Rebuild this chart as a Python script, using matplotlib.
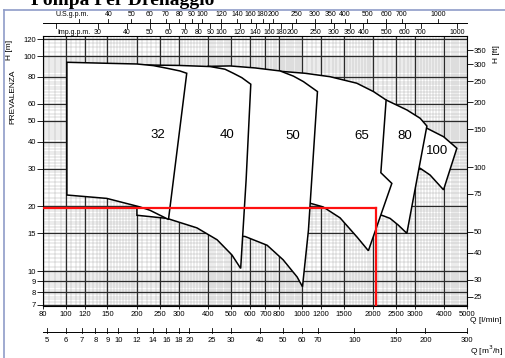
import matplotlib.pyplot as plt
import matplotlib.ticker as mticker
from matplotlib.patches import Polygon
from matplotlib.lines import Line2D
from matplotlib.transforms import blended_transform_factory

plt.rcParams['font.family'] = ['Liberation Sans Narrow', 'Liberation Sans', 'DejaVu Sans']

# pump fields: outline points, Q [l/min] and H [m]
q32 = [101, 149, 200, 235, 268, 304, 325, 272, 227, 206, 149, 101]
h32 = [93.6, 92.6, 91.9, 90.3, 87.8, 85.3, 83.2, 17.4, 19.2, 19.9, 21.8, 22.6]
q40 = [200, 300, 408, 472, 512, 556, 607, 580, 550, 505, 437, 359, 268, 200]
h40 = [91.0, 90.5, 89.4, 86.9, 83.2, 79.4, 74.0, 26.6, 10.3, 11.9, 14.0, 15.9, 17.6, 18.2]
q50 = [400, 496, 633, 808, 920, 1014, 1163, 1065, 1005, 954, 832, 712, 574, 520]
h50 = [89.6, 90.0, 88.1, 85.3, 80.7, 76.1, 68.4, 15.5, 8.47, 9.4, 11.3, 13.2, 14.5, 14.6]
q65 = [808, 1031, 1315, 1707, 2008, 2272, 2158, 2402, 1911, 1712, 1450, 1229, 1083, 900]
h65 = [85.0, 83.2, 80.2, 74.8, 68.4, 62.5, 28.7, 25.6, 12.45, 14.4, 17.7, 19.9, 20.7, 20.8]
q80 = [2000, 2272, 2781, 3166, 3381, 2781, 2555, 2361, 2179, 2000]
h80 = [62.0, 62.5, 56.2, 51.4, 47.3, 15.0, 16.4, 17.6, 18.2, 18.2]
q100 = [3000, 3381, 3977, 4529, 3977, 3488, 3166, 3000]
h100 = [46.5, 46.2, 42.2, 37.3, 23.9, 28.0, 30.1, 30.1]

fields = [('32', q32, h32, 246, 43.0), ('40', q40, h40, 483, 43.0),
          ('50', q50, h50, 914, 42.6), ('65', q65, h65, 1792, 42.6),
          ('80', q80, h80, 2736, 42.6), ('100', q100, h100, 3751, 36.2)]

# duty point (red lines)
duty_q = 2060
duty_h = 19.7

# axes ticks
q_ticks = [80, 100, 120, 150, 200, 250, 300, 400, 500, 600, 700, 800, 1000,
           1200, 1500, 2000, 2500, 3000, 4000, 5000]
q_labels = ['80', '100', '120', '150', '200', '250', '300', '400', '500', '600',
            '700', '800', '1000', '1200', '1500', '2000', '2500', '3000', '4000', '5000']
h_ticks = [7, 8, 9, 10, 15, 20, 30, 40, 50, 60, 80, 100, 120]
ft_ticks = [25, 30, 40, 50, 75, 100, 150, 200, 250, 300, 350]
us_gpm = [30, 40, 50, 60, 70, 80, 90, 100, 120, 140, 160, 180, 200, 250, 300,
          350, 400, 500, 600, 700, 1000]
imp_gpm = [20, 30, 40, 50, 60, 70, 80, 90, 100, 120, 140, 160, 180, 200, 250,
           300, 350, 400, 500, 600, 700, 1000]
m3h = [5, 6, 7, 8, 9, 10, 12, 14, 16, 18, 20, 25, 30, 40, 50, 60, 70, 100, 150, 200, 300]

# graph paper fine lines
q_minor = (list(range(80, 200, 5)) + list(range(200, 500, 10)) + list(range(500, 1000, 20))
           + list(range(1000, 2000, 50)) + list(range(2000, 5000, 100)))
h_minor = ([7 + 0.2 * i for i in range(15)] + [10 + 0.5 * i for i in range(20)]
           + list(range(20, 50)) + list(range(50, 100, 2)) + list(range(100, 125, 5)))

W, H = 506, 358
fig = plt.figure(figsize=(W / 100, H / 100), dpi=100)
ax = fig.add_axes([43 / W, 1 - 306 / H, 424 / W, 270 / H])
ax.set_xscale('log')
ax.set_yscale('log')
ax.set_xlim(80, 5000)
ax.set_ylim(6.89, 124)

for q in q_minor:
    ax.axvline(q, color='#a8a8a8', lw=0.3, zorder=0.5)
for h in h_minor:
    ax.axhline(h, color='#a8a8a8', lw=0.3, zorder=0.5)
for q in q_ticks:
    ax.axvline(q, color='#2a2a2a', lw=0.9, zorder=1)
for h in h_ticks:
    ax.axhline(h, color='#2a2a2a', lw=0.9, zorder=1)

for i, (name, qs, hs, lq, lh) in enumerate(fields):
    poly = Polygon(list(zip(qs, hs)), closed=True, facecolor='white',
                   edgecolor='black', lw=1.1, zorder=10 - i)
    ax.add_patch(poly)
    ax.text(lq, lh, name, fontsize=9.5, family=['Liberation Sans', 'DejaVu Sans'],
            ha='center', va='center', zorder=20)

ax.plot([80, duty_q], [duty_h, duty_h], color='#ff1010', lw=1.6, zorder=25)
ax.plot([duty_q, duty_q], [duty_h, 6.89], color='#ff1010', lw=1.6, zorder=25)

ax.xaxis.set_major_locator(mticker.FixedLocator(q_ticks))
ax.xaxis.set_major_formatter(mticker.FixedFormatter(q_labels))
ax.xaxis.set_minor_locator(mticker.NullLocator())
ax.yaxis.set_major_locator(mticker.FixedLocator(h_ticks))
ax.yaxis.set_major_formatter(mticker.FixedFormatter([str(v) for v in h_ticks]))
ax.yaxis.set_minor_locator(mticker.NullLocator())
ax.tick_params(axis='x', length=2, width=0.6, pad=1.5, labelsize=5.5)
ax.tick_params(axis='y', length=4, width=0.6, pad=1, labelsize=5.5)
for s in ax.spines.values():
    s.set_linewidth(0.8)

sec = ax.secondary_yaxis('right', functions=(lambda m: m * 3.281, lambda f: f / 3.281))
sec.yaxis.set_major_locator(mticker.FixedLocator(ft_ticks))
sec.yaxis.set_major_formatter(mticker.FixedFormatter([str(v) for v in ft_ticks]))
sec.yaxis.set_minor_locator(mticker.NullLocator())
sec.tick_params(length=4, width=0.6, pad=1, labelsize=5.5)
sec.spines['right'].set_visible(False)

# top flow scales (gallons per minute)
tr = blended_transform_factory(ax.transData, ax.transAxes)
ay = lambda py: (306 - py) / 270
ax.plot([80, 5000], [ay(23), ay(23)], transform=tr, clip_on=False, color='k', lw=0.7)
for v in us_gpm:
    q = v * 3.785
    ax.plot([q, q], [ay(23), ay(18.5)], transform=tr, clip_on=False, color='k', lw=0.6)
    if v != us_gpm[0]:
        ax.text(q, ay(14), str(v), transform=tr, fontsize=5, ha='center', va='center')
for v in imp_gpm:
    q = v * 4.546
    ax.plot([q, q], [ay(23), ay(27.5)], transform=tr, clip_on=False, color='k', lw=0.6)
    if v != imp_gpm[0]:
        ax.text(q, ay(32.5), str(v), transform=tr, fontsize=5, ha='center', va='center')
ax.text(90, ay(14), 'U.S.g.p.m.', transform=tr, fontsize=5, ha='left', va='center')
ax.text(92, ay(32.5), 'Imp.g.p.m.', transform=tr, fontsize=5, ha='left', va='center')

# bottom flow scale m3/h
ax.plot([80, 5000], [ay(331.7), ay(331.7)], transform=tr, clip_on=False, color='k', lw=0.7)
for v in m3h:
    q = v * 1000 / 60
    ax.plot([q, q], [ay(332.5), ay(327.5)], transform=tr, clip_on=False, color='k', lw=0.6)
    ax.text(q, ay(340.7), str(v), transform=tr, fontsize=5.5, ha='center', va='center')

fig.text(470 / W, 1 - 321 / H, 'Q [l/min]', fontsize=6, ha='left', va='center')
fig.text(470 / W, 1 - 350.7 / H, 'Q [m$^3$/h]', fontsize=6, ha='left', va='center')
fig.text(10 / W, 1 - 50 / H, 'H [m]', fontsize=6, rotation=90, ha='center', va='center')
fig.text(13 / W, 1 - 97 / H, 'PREVALENZA', fontsize=6, rotation=90, ha='center', va='center')
fig.text(497 / W, 1 - 54 / H, 'H [ft]', fontsize=6, rotation=90, ha='center', va='center')

fig.text(31 / W, 1 - 5 / H, 'Pompa Per Drenaggio', fontsize=14, fontweight='bold',
         family=['Liberation Serif', 'DejaVu Serif'], ha='left', va='baseline')

fig.add_artist(Line2D([4 / W, 4 / W], [0, 1 - 10 / H], transform=fig.transFigure,
                      color='#8f9cc8', lw=1.2))
fig.add_artist(Line2D([4 / W, 1], [1 - 10 / H, 1 - 10 / H], transform=fig.transFigure,
                      color='#8f9cc8', lw=1.2))

fig.savefig('out.png', dpi=100)
